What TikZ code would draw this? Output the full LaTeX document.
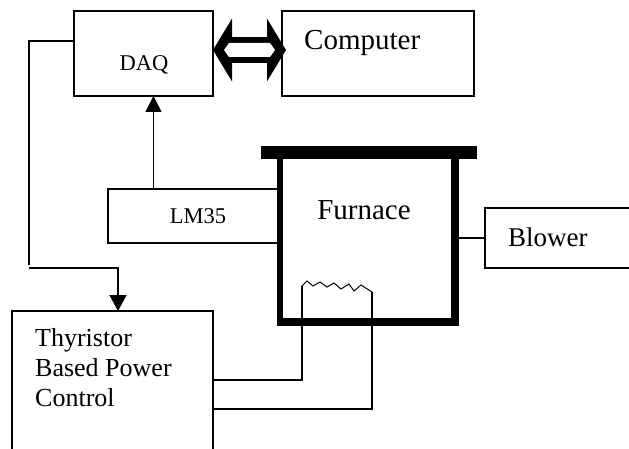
\documentclass[tikz,border=0pt]{standalone}
\usepackage{fontspec}
\setmainfont{Liberation Serif}
\usetikzlibrary{arrows.meta,positioning}
\begin{document}
\begin{tikzpicture}[x=1pt,y=-1pt,
  blockbox/.style={draw, line width=1.6pt, outer sep=0pt, inner sep=0pt},
  wire/.style={line width=1.5pt},
  wall/.style={line width=8pt},
  biglabel/.style={font=\fontsize{27}{30}\selectfont, inner sep=0pt},
  smalllabel/.style={font=\fontsize{22.5}{26}\selectfont, inner sep=0pt}]
  \clip (0,0) rectangle (629,449);
  % Boxes
  \node[blockbox, minimum width=139, minimum height=85] (daq) at (143.5,53.5) {};
  \node[blockbox, minimum width=192, minimum height=85] (computer) at (378,53.5) {};
  \node[blockbox, minimum width=170, minimum height=54] (lm35) at (193,216) {};
  \node[blockbox, minimum width=175, minimum height=60] (blower) at (572.5,238) {};
  \node[blockbox, minimum width=201, minimum height=170] (thyristor) at (112.5,396) {};
  % Furnace walls
  \draw[wall, line width=6pt] (279.5,159) -- (279.5,326);
  \draw[wall] (455,159) -- (455,326);
  \draw[wall] (276.5,322) -- (459,322);
  \draw[wall, line width=13pt] (261,152.5) -- (477,152.5);
  % Labels
  \node[smalllabel, anchor=base] (daqtext) at (144,71) {DAQ};
  \node[biglabel, font=\fontsize{29}{30}\selectfont, anchor=base west] (computertext) at (304,50) {Computer};
  \node[smalllabel, anchor=base] (lm35text) at (198,223) {LM35};
  \node[biglabel, font=\fontsize{29}{30}\selectfont, anchor=base] (furnacetext) at (364,220) {Furnace};
  \node[biglabel, anchor=base west] (blowertext) at (508,247) {Blower};
  \node[biglabel, font=\fontsize{26}{30}\selectfont, anchor=north west, align=left] (thyristortext) at (35,328) {Thyristor\\Based Power\\Control};
  % Heater element
  \coordinate (heatA) at (302,286);
  \coordinate (heatB) at (372,292);
  \coordinate (wallright) at (459,238);
  \coordinate (dropleft) at (29,268);
  \draw[wire, line width=1pt] (heatA) -- (307,281) -- (313,286) -- (320,282) -- (327,287) -- (334,283) -- (341,289) -- (349,284) -- (354,291) -- (361,285) -- (heatB);
  % Connectors
  \draw[wire] (heatA) -- (302,380) -- ([yshift=16pt]thyristor.east);
  \draw[wire] (heatB) -- (372,409) -- ([yshift=-13pt]thyristor.east);
  \draw[wire] (wallright) -- (blower.west);
  \draw[wire] ([yshift=12.5pt]daq.west) -- (29,41) -- (29,265);
  \draw[wire, -{Triangle[length=16pt,width=17pt]}] (dropleft) -- (118,268) -- (118,311);
  \draw[wire, -{Triangle[length=16pt,width=16pt]}] ([xshift=-39.5pt]lm35.north) -- ([xshift=10pt]daq.south);
  \draw[line width=6pt, double=white, double distance=14pt, shorten >=-4pt,
    {Triangle[length=19pt,width=62pt]}-{Triangle[length=19pt,width=62pt]}]
    ([yshift=3.5pt]daq.east) -- ([yshift=3.5pt]computer.west);
  \fill[white] (224,50) -- (229,43) -- (270,43) -- (275,50) -- (270,57) -- (229,57) -- cycle;
\end{tikzpicture}
\end{document}
